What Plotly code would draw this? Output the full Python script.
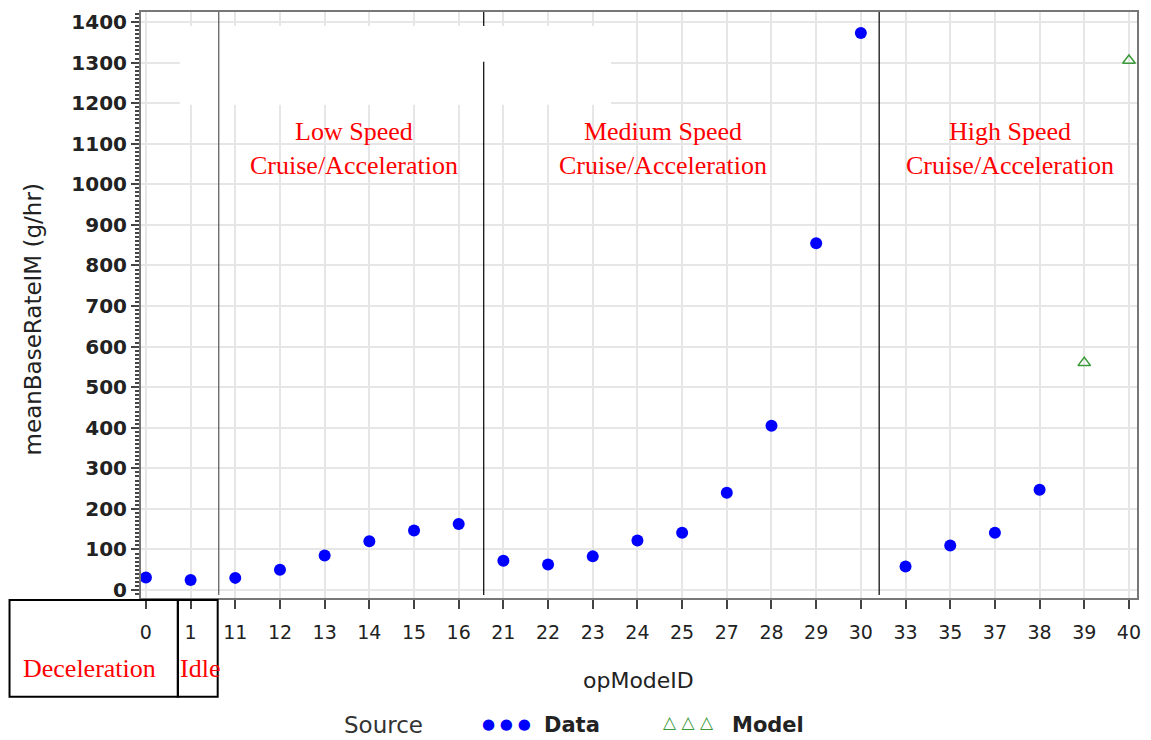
import plotly.graph_objects as go

categories = ["0", "1", "11", "12", "13", "14", "15", "16", "21", "22", "23", "24",
              "25", "27", "28", "29", "30", "33", "35", "37", "38", "39", "40"]
data_x = ["0", "1", "11", "12", "13", "14", "15", "16", "21", "22", "23", "24",
          "25", "27", "28", "29", "30", "33", "35", "37", "38"]
data_y = [31, 25, 30, 50, 85, 120, 147, 163, 72, 63, 83, 122,
          141, 240, 405, 855, 1373, 58, 110, 141, 247]
model_x = ["39", "40"]
model_y = [560, 1305]

region_labels = ["Low Speed<br>Cruise/Acceleration",
                 "Medium Speed<br>Cruise/Acceleration",
                 "High Speed<br>Cruise/Acceleration"]
region_centers = [4.66, 11.58, 19.34]
separators = [1.63, 7.56, 16.41]


def px(xpix):
    return (xpix - 141) / 1000


def py(ypix):
    return (598 - ypix) / 588


fig = go.Figure()
fig.add_trace(go.Scatter(x=data_x, y=data_y, mode="markers", name="Data",
                         marker=dict(color="#0000ff", size=12, symbol="circle"),
                         showlegend=False))
fig.add_trace(go.Scatter(x=model_x, y=model_y, mode="markers", name="Model",
                         marker=dict(color="#3a9a3a", size=11, symbol="triangle-up-open",
                                     line=dict(width=1.5)),
                         showlegend=False))

shapes = []
# white patch over gridlines
shapes.append(dict(type="rect", xref="paper", yref="y", layer="above",
                   x0=px(180), x1=px(613), y0=1196, y1=1390,
                   fillcolor="white", line=dict(width=0)))
# separators
shapes.append(dict(type="line", xref="x", yref="y", x0=separators[0], x1=separators[0],
                   y0=-12, y1=1425, line=dict(color="#555555", width=1.2)))
shapes.append(dict(type="line", xref="x", yref="y", x0=separators[1], x1=separators[1],
                   y0=-12, y1=1302, line=dict(color="black", width=1.2)))
shapes.append(dict(type="line", xref="x", yref="y", x0=separators[1], x1=separators[1],
                   y0=1390, y1=1425, line=dict(color="black", width=1.2)))
shapes.append(dict(type="line", xref="x", yref="y", x0=separators[2], x1=separators[2],
                   y0=-12, y1=1425, line=dict(color="black", width=1.2)))
# bottom boxes
shapes.append(dict(type="rect", xref="paper", yref="paper",
                   x0=px(9), x1=px(178), y0=py(697), y1=py(600),
                   line=dict(color="black", width=2)))
shapes.append(dict(type="rect", xref="paper", yref="paper",
                   x0=px(178), x1=px(218), y0=py(697), y1=py(600),
                   line=dict(color="black", width=2)))

annotations = []
for lab, cx in zip(region_labels, region_centers):
    annotations.append(dict(x=cx, y=1088, xref="x", yref="y", text=lab, showarrow=False,
                            font=dict(family="Liberation Serif", size=26, color="red"),
                            align="center", xanchor="center", yanchor="middle"))


def ann(x, y, text, font, xanchor="center", **kw):
    annotations.append(dict(x=px(x), y=py(y), xref="paper", yref="paper", text=text,
                            showarrow=False, xanchor=xanchor, yanchor="middle",
                            font=font, **kw))


serif_red = dict(family="Liberation Serif", size=26, color="red")
ann(89, 669, "Deceleration", serif_red)
ann(200, 669, "Idle", serif_red)
ann(33, 318, "meanBaseRateIM (g/hr)",
    dict(family="DejaVu Sans", size=23, color="#222222"), textangle=-90)
ann(640, 681, "opModeID", dict(family="DejaVu Sans", size=22, color="#222222"))
# legend
ann(384, 725, "Source", dict(family="DejaVu Sans", size=23, color="#333333"))
ann(481, 724, "\u25CF \u25CF \u25CF", dict(family="DejaVu Sans", size=15, color="#0000ff"),
    xanchor="left")
ann(544, 725, "Data", dict(family="DejaVu Sans", size=21, color="#222222", weight="bold"),
    xanchor="left")
ann(663, 722, "\u25B3 \u25B3 \u25B3", dict(family="DejaVu Sans", size=17, color="#3a9a3a"),
    xanchor="left")
ann(732, 725, "Model", dict(family="DejaVu Sans", size=21, color="#222222", weight="bold"),
    xanchor="left")

fig.update_layout(
    width=1151, height=740,
    margin=dict(l=141, r=10, t=10, b=142),
    plot_bgcolor="white", paper_bgcolor="white",
    shapes=shapes, annotations=annotations,
    xaxis=dict(type="category", categoryorder="array", categoryarray=categories,
               range=[-0.11, 22.18], showgrid=True, gridcolor="#e6e6e6", gridwidth=1.5,
               showline=True, linecolor="#777777", linewidth=2, mirror=True,
               ticks="outside", ticklen=9, tickcolor="#444444", tickwidth=1.5,
               ticklabelstandoff=7,
               tickfont=dict(family="DejaVu Sans", size=19, color="#222222"),
               zeroline=False),
    yaxis=dict(range=[-19.6, 1424.7], tickmode="linear", tick0=0, dtick=100,
               showgrid=True, gridcolor="#e6e6e6", gridwidth=1.5,
               showline=True, linecolor="#777777", linewidth=2, mirror=True,
               ticks="outside", ticklen=8, tickcolor="#444444", tickwidth=1.5,
               minor=dict(dtick=10, tick0=0, ticks="outside", ticklen=4,
                          tickcolor="#444444", showgrid=False),
               tickfont=dict(family="DejaVu Sans", size=20, color="#222222", weight="bold"),
               zeroline=False),
)

fig.write_html("out.html")
